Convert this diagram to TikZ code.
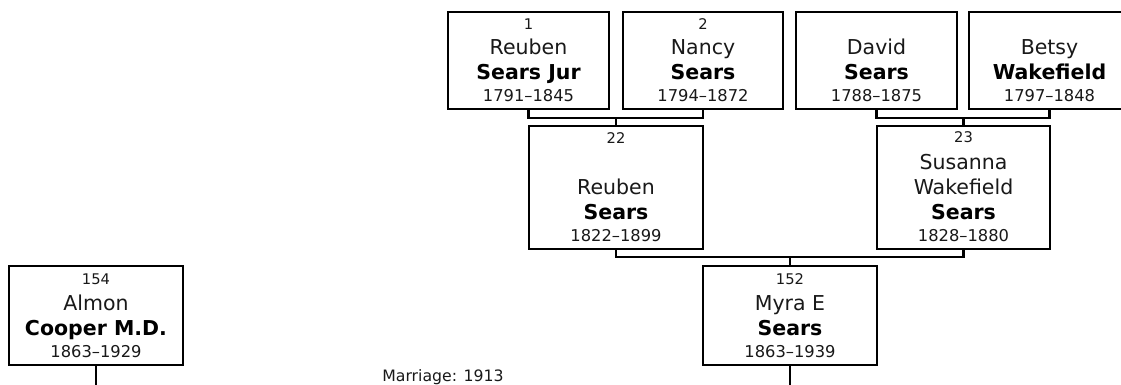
\documentclass[tikz,border=0pt]{standalone}
\usepackage{fontspec}
\setmainfont{DejaVu Sans}
\newcommand\famcard[8]{%
  \pgfmathsetmacro\pcy{(#3+#4)/2}%
  \pgfmathsetmacro\ph{#4-#3}%
  \node[pbox, minimum width=#5, minimum height=\ph] (#1) at (#2,\pcy) {};
  \node[nm] (#1f) at (#2,#4-54.5) {#6};
  \node[sn] (#1s) at (#2,#4-29.5) {#7};
  \node[dt] (#1d) at (#2,#4-8) {#8};
}
\begin{document}
\begin{tikzpicture}[x=1pt,y=-1pt,
  pbox/.style={draw=black, line width=2.6pt, fill=white, inner sep=0pt},
  nm/.style={anchor=base, inner sep=0pt, text=black!90, font=\fontsize{20.5}{24}\selectfont},
  sn/.style={anchor=base, inner sep=0pt, text=black, font=\fontsize{20.5}{24}\selectfont\bfseries},
  dt/.style={anchor=base, inner sep=0pt, text=black!90, font=\fontsize{16.3}{19}\selectfont},
  num/.style={anchor=base, inner sep=0pt, text=black!90, font=\fontsize{14.7}{17}\selectfont},
  mar/.style={anchor=base, inner sep=0pt, text=black!90, font=\fontsize{15.7}{18}\selectfont},
  conn/.style={draw=black, line width=2.6pt}]
\useasboundingbox (0,0) rectangle (1121,384);
\clip (0,0) rectangle (1121,384);
\fill[white] (0,0) rectangle (1121,384);

\famcard{b1}{528.5}{12}{109}{161}{Reuben}{Sears Jur}{1791–1845}
\node[num] (b1n) at (528.5,29.3) {1};
\famcard{b2}{703}{12}{109}{160}{Nancy}{Sears}{1794–1872}
\node[num] (b2n) at (703,29.3) {2};
\famcard{b3}{876.5}{12}{109}{161}{David}{Sears}{1788–1875}
\famcard{b4}{1049.5}{12}{109}{161}{Betsy}{Wakefield}{1797–1848}

\famcard{b22}{616}{126}{249}{174}{Reuben}{Sears}{1822–1899}
\node[num] (b22n) at (616,143.3) {22};
\famcard{b23}{963.5}{126}{249}{173}{Wakefield}{Sears}{1828–1880}
\node[nm] (b23x) at (963.5,169.5) {Susanna};
\node[num] (b23n) at (963.5,142.3) {23};

\famcard{b152}{790}{266}{365}{174}{Myra E}{Sears}{1863–1939}
\node[num] (b152n) at (790,284.3) {152};
\famcard{b154}{96}{266}{365}{174}{Almon}{Cooper M.D.}{1863–1929}
\node[num] (b154n) at (96,284.3) {154};

\coordinate (j1) at (616,118);
\coordinate (j2) at (963.5,118);
\coordinate (j3) at (790,257);
\coordinate (e1) at (96,388);
\coordinate (e2) at (790,388);

\draw[conn] (b1.south) |- (j1) -| (b2.south);
\draw[conn] (j1) -- (b22.north);
\draw[conn] (b3.south) |- (j2) -| (b4.south);
\draw[conn] (j2) -- (b23.north);
\draw[conn] (b22.south) |- (j3) -| (b23.south);
\draw[conn] (j3) -- (b152.north);
\draw[conn] (b154.south) -- (e1);
\draw[conn] (b152.south) -- (e2);

\node[mar] (m) at (443,381) {Marriage: 1913};
\end{tikzpicture}
\end{document}
